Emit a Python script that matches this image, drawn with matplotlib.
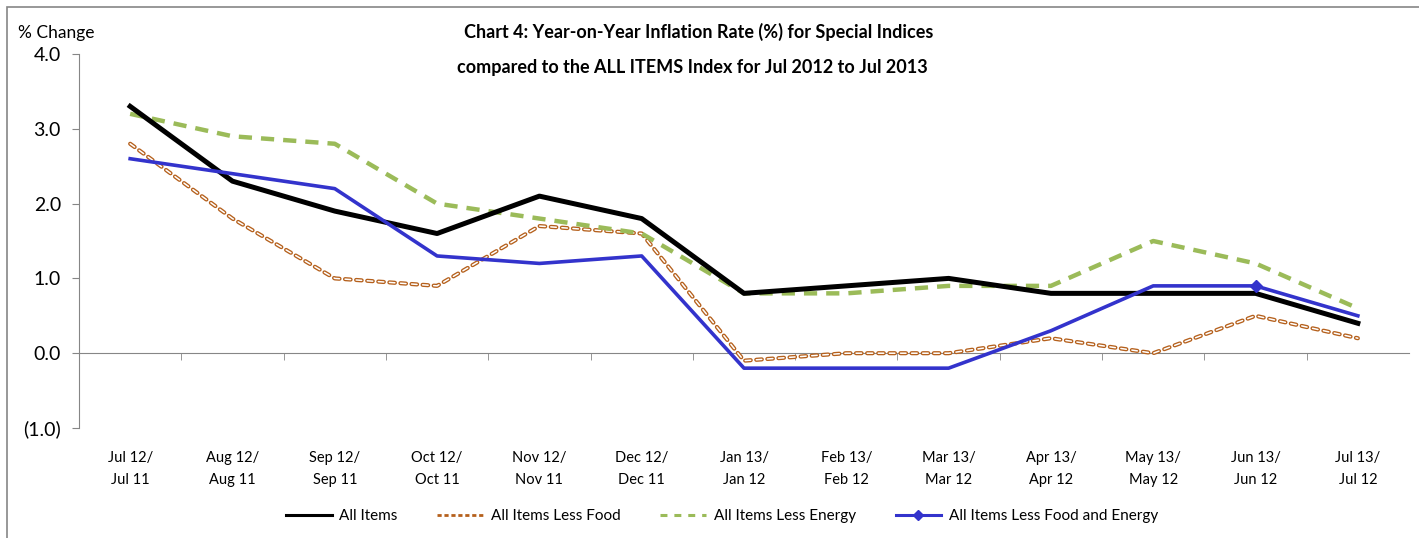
import matplotlib
matplotlib.use("Agg")
import matplotlib.pyplot as plt
from matplotlib.patches import Rectangle
from matplotlib.lines import Line2D
from matplotlib.ticker import FuncFormatter, FixedLocator
import numpy as np

plt.rcParams['font.family'] = ['Lato', 'DejaVu Sans']
plt.rcParams['lines.scale_dashes'] = False

categories = ["Jul 12/\nJul 11", "Aug 12/\nAug 11", "Sep 12/\nSep 11", "Oct 12/\nOct 11",
              "Nov 12/\nNov 11", "Dec 12/\nDec 11", "Jan 13/\nJan 12", "Feb 13/\nFeb 12",
              "Mar 13/\nMar 12", "Apr 13/\nApr 12", "May 13/\nMay 12", "Jun 13/\nJun 12",
              "Jul 13/\nJul 12"]
all_items = [3.3, 2.3, 1.9, 1.6, 2.1, 1.8, 0.8, 0.9, 1.0, 0.8, 0.8, 0.8, 0.4]
less_food = [2.8, 1.8, 1.0, 0.9, 1.7, 1.6, -0.1, 0.0, 0.0, 0.2, 0.0, 0.5, 0.2]
less_energy = [3.2, 2.9, 2.8, 2.0, 1.8, 1.6, 0.8, 0.8, 0.9, 0.9, 1.5, 1.2, 0.6]
less_food_energy = [2.6, 2.4, 2.2, 1.3, 1.2, 1.3, -0.2, -0.2, -0.2, 0.3, 0.9, 0.9, 0.5]

W, H = 1419, 538
fig = plt.figure(figsize=(W / 100, H / 100), dpi=100)
ax = fig.add_axes([79 / W, 1 - 428 / H, (1409 - 79) / W, (428 - 54) / H])

x = np.arange(len(categories))
gray = '#868686'
brown = '#B5601C'

ax.plot(x, all_items, color='black', lw=3.6, zorder=4)
# double-style dashed line: brown outline with white core
ax.plot(x, less_food, color=brown, lw=3.0, dashes=(4, 4), dash_capstyle='round', zorder=3)
ax.plot(x, less_food, color='white', lw=1.1, dashes=(4, 4), dash_capstyle='round', zorder=3)
ax.plot(x, less_energy, color='#9BBB59', lw=3.2, dashes=(9.5, 6.5), zorder=3)
ax.plot(x, less_food_energy, color='#3333CC', lw=2.6, marker='D', markersize=6,
        markevery=[11], zorder=5)

ax.set_xlim(-0.5, len(categories) - 0.5)
ax.set_ylim(-1.0, 4.0)
ax.set_yticks(np.arange(-1.0, 4.01, 1.0))
ax.yaxis.set_major_formatter(FuncFormatter(lambda v, p: f"({abs(v):.1f})" if v < 0 else f"{v:.1f}"))

for s in ['top', 'right']:
    ax.spines[s].set_visible(False)
ax.spines['left'].set_color(gray)
ax.spines['bottom'].set_color(gray)
ax.spines['bottom'].set_position(('data', 0))

ax.set_xticks(x)
ax.set_xticklabels(categories, fontsize=10.5, linespacing=1.75)
ax.xaxis.set_minor_locator(FixedLocator(np.arange(0.5, len(categories) - 0.5, 1.0)))
ax.tick_params(axis='x', which='major', length=0, pad=70.5)
ax.tick_params(axis='x', which='minor', length=5, color=gray, direction='out')
ax.tick_params(axis='y', length=5, color=gray, labelsize=14, pad=8)

fig.text(18 / W, 1 - 33 / H, "% Change", fontsize=12.5, va='center', ha='left')
fig.text(699 / W, 1 - 32 / H, "Chart 4: Year-on-Year Inflation Rate (%) for Special Indices",
         fontsize=13, fontweight='bold', ha='center', va='center')
fig.text(692 / W, 1 - 67 / H, "compared to the ALL ITEMS Index for Jul 2012 to Jul 2013",
         fontsize=13, fontweight='bold', ha='center', va='center')

h1 = Line2D([], [], color='black', lw=2.2)
h2 = Line2D([], [], color=brown, lw=2.0, dashes=(3, 2))
h3 = Line2D([], [], color='#9BBB59', lw=2.2, dashes=(5, 5))
h4 = Line2D([], [], color='#3333CC', lw=2.2, marker='D', markersize=5)
fig.legend([h1, h2, h3, h4],
           ["All Items", "All Items Less Food", "All Items Less Energy",
            "All Items Less Food and Energy"],
           loc='center', bbox_to_anchor=(722 / W, 1 - 516 / H), ncol=4, frameon=False,
           fontsize=11, handlelength=3.0, columnspacing=2.6, handletextpad=0.5)

fig.add_artist(Rectangle((7 / W, -0.05), 1.1, 1 - 7 / H + 0.05, transform=fig.transFigure,
                         fill=False, edgecolor=gray, lw=1.2))

fig.savefig("out.png", dpi=100)
